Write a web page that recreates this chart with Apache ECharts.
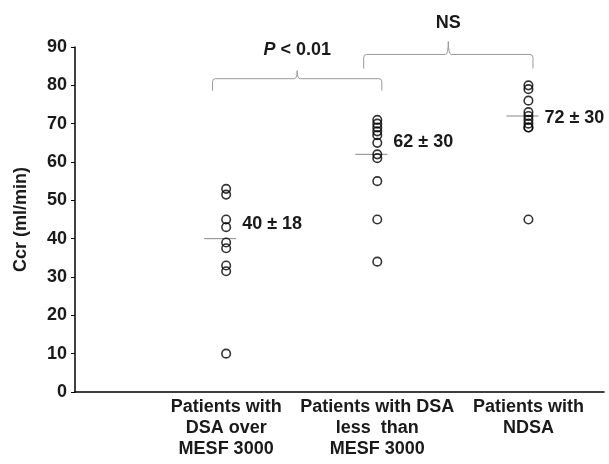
<!DOCTYPE html>
<html><head><meta charset="utf-8">
<script src="https://cdn.jsdelivr.net/npm/echarts@6/dist/echarts.min.js"></script>
<style>html,body{margin:0;padding:0;background:#fff}#c{width:609px;height:464px}</style>
</head><body><div id="c"></div>
<script>
const categories = ['Patients with\nDSA over\nMESF 3000', 'Patients with DSA\nless  than\nMESF 3000', 'Patients with\nNDSA'];
const group1 = [53, 51.5, 45, 43, 39, 37.5, 33, 31.5, 10];
const group2 = [71, 70, 69, 68, 67, 65, 62, 61, 55, 45, 34];
const group3 = [80, 79, 76, 73, 72, 71, 70, 69, 69, 45];
const means = [40, 62, 72];
const sds = [18, 30, 30];
const yMin = 0, yMax = 90, yStep = 10;
const bracketFrom = [0.91, 1.91];
const bracketTo = [2.03, 3.03];
const bracketBase = [78.6, 84.4];
const bracketText = ['{i|P} < 0.01', 'NS'];

const FONT = 'Liberation Sans, Arial, Helvetica, sans-serif';
const FS = 18;
const groups = [group1, group2, group3];
const scatterData = [];
groups.forEach((g, i) => g.forEach(v => scatterData.push([i + 1, v])));

const chart = echarts.init(document.getElementById('c'), null, {renderer: 'canvas'});
chart.setOption({
  animation: false,
  backgroundColor: '#fff',
  grid: {left: 75, right: 5, top: 47, bottom: 72},
  xAxis: {
    type: 'value', min: 0, max: 3.5, interval: 1,
    axisLine: {lineStyle: {color: '#000', width: 1.5}},
    axisTick: {show: false}, splitLine: {show: false},
    axisLabel: {
      margin: 5, color: '#1a1a1a', fontFamily: FONT, fontWeight: 'bold', fontSize: FS, lineHeight: 21,
      showMaxLabel: false,
      formatter: v => (v >= 1 && v <= 3 && Number.isInteger(v)) ? categories[v - 1] : ''
    }
  },
  yAxis: {
    type: 'value', min: yMin, max: yMax, interval: yStep,
    name: 'Ccr (ml/min)', nameLocation: 'middle', nameRotate: 90, nameGap: 45,
    nameTextStyle: {color: '#1a1a1a', fontFamily: FONT, fontWeight: 'bold', fontSize: FS},
    axisLine: {show: true, lineStyle: {color: '#000', width: 1.5}},
    axisTick: {show: true, length: 4, lineStyle: {color: '#000', width: 1}},
    splitLine: {show: false},
    axisLabel: {margin: 8, color: '#1a1a1a', fontFamily: FONT, fontWeight: 'bold', fontSize: FS}
  },
  series: [
    {
      type: 'scatter', data: scatterData, symbol: 'circle', symbolSize: 8.5,
      itemStyle: {color: 'rgba(255,255,255,0)', borderColor: '#000', borderWidth: 1.6}
    },
    {
      type: 'custom', clip: false,
      data: means.map((m, i) => [i + 1, m, sds[i]]),
      renderItem: (params, api) => {
        const p = api.coord([api.value(0), api.value(1)]);
        return {
          type: 'group', children: [
            {type: 'line', shape: {x1: p[0] - 22, y1: p[1], x2: p[0] + 10, y2: p[1]},
             style: {stroke: '#888', lineWidth: 1}},
            {type: 'text', x: p[0] + 16, y: p[1] - [15, 12, -2][params.dataIndex],
             style: {text: api.value(1) + ' ± ' + api.value(2), fill: '#1a1a1a',
                     font: 'bold ' + FS + 'px ' + FONT, textVerticalAlign: 'middle', textAlign: 'left'}}
          ]
        };
      }
    },
    {
      type: 'custom', clip: false,
      data: bracketFrom.map((f, i) => [f, bracketTo[i], bracketBase[i]]),
      renderItem: (params, api) => {
        const a = api.coord([api.value(0), api.value(2)]);
        const b = api.coord([api.value(1), api.value(2)]);
        const arm = [12, 14][params.dataIndex];
        const peak = [8, 13][params.dataIndex];
        const x1 = a[0], x2 = b[0], yb = a[1], yh = yb - arm, xc = (x1 + x2) / 2;
        const d = `M${x1},${yb} L${x1},${yh + 3} Q${x1},${yh} ${x1 + 3},${yh} L${xc - 3},${yh} Q${xc},${yh} ${xc},${yh - peak} Q${xc},${yh} ${xc + 3},${yh} L${x2 - 3},${yh} Q${x2},${yh} ${x2},${yh + 3} L${x2},${yb}`;
        return {
          type: 'group', children: [
            {type: 'path', shape: {pathData: d}, style: {stroke: '#999', fill: null, lineWidth: 1}},
            {type: 'text', x: xc, y: yh - peak - [21, 18][params.dataIndex],
             style: {text: bracketText[params.dataIndex], fill: '#1a1a1a',
                     font: 'bold ' + FS + 'px ' + FONT, textAlign: 'center', textVerticalAlign: 'middle',
                     rich: {i: {fontStyle: 'italic', fontWeight: 'bold', fontSize: FS, fontFamily: FONT, fill: '#1a1a1a'}}}}
          ]
        };
      }
    }
  ]
});
</script></body></html>
